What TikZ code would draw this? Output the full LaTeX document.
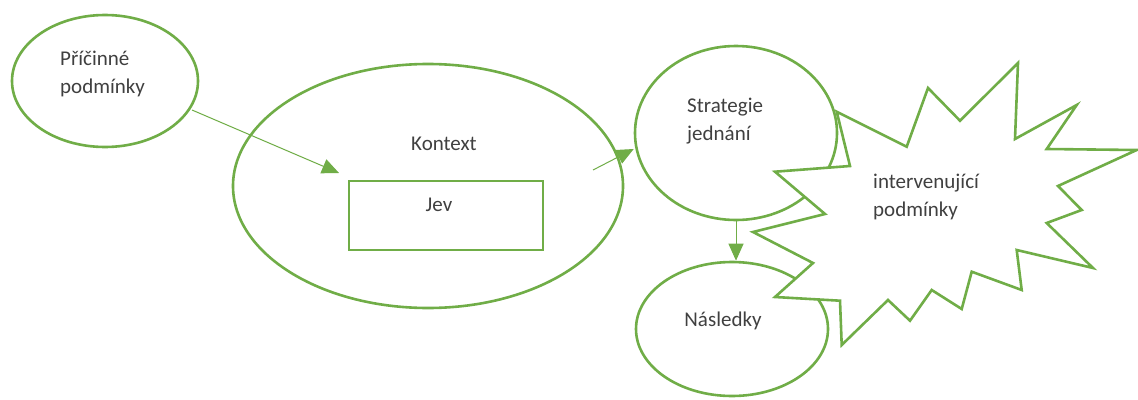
\documentclass[tikz,border=0pt]{standalone}
\usepackage{fontspec}
\setmainfont{Carlito}
\usetikzlibrary{shapes.geometric,arrows.meta}
\definecolor{grn}{HTML}{70AD47}
\definecolor{txt}{HTML}{404040}
\tikzset{
  shp/.style={draw=grn, line width=2.6pt, fill=white, inner sep=0pt},
  ell/.style={shp, ellipse},
  lbl/.style={text=txt, font=\fontsize{21}{28}\selectfont, inner sep=0pt, align=left},
  conn/.style={draw=grn, line width=1pt, -{Triangle[length=17pt,width=15pt]}}
}
\begin{document}
\begin{tikzpicture}[x=1pt,y=-1pt]
\useasboundingbox (0,0) rectangle (1138,399);
% shapes
\node[ell, minimum width=186pt, minimum height=132pt] (pric) at (105,81) {};
\node[ell, minimum width=390pt, minimum height=244pt] (kont) at (428,186) {};
\node[shp, draw, rectangle, minimum width=194pt, minimum height=69pt] (jev) at (446,215.5) {};
\node[ell, minimum width=202pt, minimum height=174pt] (strat) at (736,133) {};
\node[ell, minimum width=192pt, minimum height=134pt] (nasl) at (732,329) {};
% star
\draw[shp, line join=miter] (836.7,111.7) -- (850,166) -- (775,171.7) -- (825,214) -- (753,232)
  -- (813,263) -- (775,297) -- (840,300.7) -- (841.7,345) -- (888,300) -- (910,320.7)
  -- (931.7,290) -- (961.7,309) -- (971.7,271.7) -- (1021.7,290) -- (1016.7,250)
  -- (1093,268) -- (1046.7,223) -- (1081.7,210) -- (1058,186) -- (1136.7,150)
  -- (1046.7,149) -- (1076.7,105) -- (1015,139) -- (1018,63) -- (960,120.7)
  -- (928,88) -- (906.7,146.7) -- cycle;
% labels
\node[lbl, anchor=north west] (tpric) at (60,51) {Příčinné\\podmínky};
\node[lbl] (tkont) at (444,144) {Kontext};
\node[lbl] (tjev) at (439,205) {Jev};
\node[lbl, anchor=north west] (tstrat) at (687,98) {Strategie\\jednání};
\node[lbl] (tnasl) at (723,321) {Následky};
\node[lbl, anchor=north west] (tint) at (873,174) {intervenující\\podmínky};
% connectors
\coordinate (a1s) at (192,110);
\coordinate (a1e) at (339,173);
\coordinate (a2s) at (593,170);
\draw[conn] (a1s) -- (a1e);
\draw[conn] (a2s) -- (strat.west |- 0,149);
\draw[conn] (strat.south) -- (strat.south |- nasl.north);
\end{tikzpicture}
\end{document}
